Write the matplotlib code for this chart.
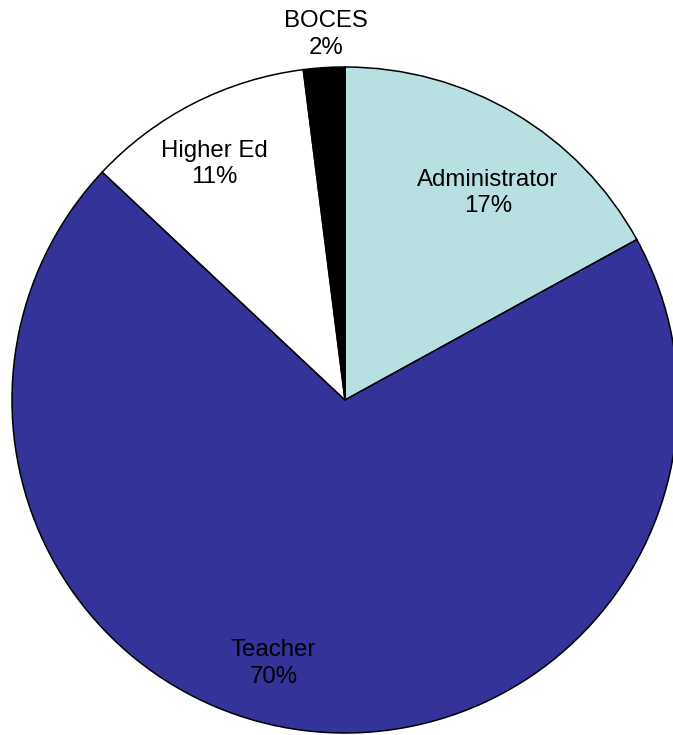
import numpy as np
import matplotlib
matplotlib.use("Agg")
import matplotlib.pyplot as plt

plt.rcParams['font.family'] = ['Liberation Sans', 'DejaVu Sans']

categories = ['Administrator', 'Teacher', 'Higher Ed', 'BOCES']
shares = [17, 70, 11, 2]
colors = ['#B8DFE2', '#333399', '#FFFFFF', '#000000']

# label placement: radius as fraction of pie radius, angle shift in degrees
label_r = [0.755, 0.82, 0.81, 1.1]
label_shift = [-4, -8, 2, -0.6]

W, H = 673, 735
fig = plt.figure(figsize=(W / 100, H / 100), dpi=100)
ax = fig.add_axes([0, 0, 1, 1])

cx, cy, R = 345, 335, 333
wedges, _ = ax.pie(shares, colors=colors, startangle=90, counterclock=False,
                   center=(cx, cy), radius=R,
                   wedgeprops=dict(edgecolor='black', linewidth=1.1))

for w, name, v, fr, sh in zip(wedges, categories, shares, label_r, label_shift):
    mid = np.deg2rad((w.theta1 + w.theta2) / 2 + sh)
    x = cx + fr * R * np.cos(mid)
    y = cy + fr * R * np.sin(mid)
    ax.text(x, y, f"{name}\n{v}%", ha='center', va='center', fontsize=17.3,
            linespacing=1.28, color='black')

ax.set_xlim(0, W)
ax.set_ylim(0, H)
ax.set_aspect('equal')
ax.axis('off')

fig.savefig('out.png', dpi=100)
